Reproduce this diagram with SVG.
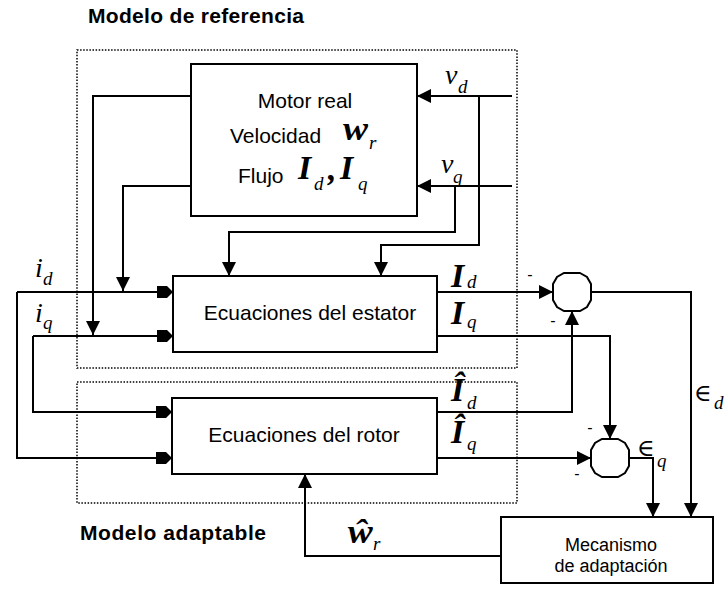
<svg xmlns="http://www.w3.org/2000/svg" width="728" height="594" viewBox="0 0 728 594">
<defs>
<style>
.frame{fill:none;stroke:#000;stroke-width:1.5;stroke-dasharray:1.5 1.6}
.box{fill:#fff;stroke:#000;stroke-width:2}
.sum{fill:#fff;stroke:#000;stroke-width:2}
.wire{fill:none;stroke:#000;stroke-width:2;marker-end:url(#ah)}
.win{fill:none;stroke:#000;stroke-width:2;marker-end:url(#ai)}
.sans{font-family:"Liberation Sans",Arial,sans-serif;font-size:21px;fill:#000}
.mec{font-family:"Liberation Sans",Arial,sans-serif;font-size:18px;fill:#000}
.title{font-family:"Liberation Sans",Arial,sans-serif;font-size:21px;font-weight:bold;fill:#000}
.mi{font-family:"Liberation Serif","Times New Roman",serif;font-style:italic;font-size:28px;fill:#000}
.sub{font-family:"Liberation Serif","Times New Roman",serif;font-style:italic;font-size:19px;fill:#000}
.bi{font-family:"Liberation Serif","Times New Roman",serif;font-style:italic;font-weight:bold;font-size:34px;fill:#000}
.el{font-family:"DejaVu Serif","Liberation Serif",serif;font-size:24px;fill:#000}
.minus{font-family:"Liberation Sans",Arial,sans-serif;font-size:16px;fill:#000;text-anchor:middle}
</style>
<marker id="ah" viewBox="0 0 14 14" refX="14" refY="7" markerWidth="14" markerHeight="14" markerUnits="userSpaceOnUse" orient="auto">
<path d="M0,0 L14,7 L0,14 z" fill="#000"/>
</marker>
<marker id="ai" viewBox="0 0 16 14" refX="16" refY="7" markerWidth="16" markerHeight="14" markerUnits="userSpaceOnUse" orient="auto">
<path d="M0,1 L10,1 L16,7 L10,13 L0,13 z" fill="#000"/>
</marker>
</defs>
<rect width="728" height="594" fill="#fff"/>

<g id="modelo-referencia">
<rect class="frame" x="77" y="50" width="440" height="318"/>
<text class="title" x="88" y="23" textLength="216" lengthAdjust="spacing">Modelo de referencia</text>
</g>
<g id="modelo-adaptable">
<rect class="frame" x="77" y="382" width="440" height="121"/>
<text class="title" x="80" y="540" textLength="186" lengthAdjust="spacing">Modelo adaptable</text>
</g>

<g id="connectors">
<path class="wire" d="M191,96 H93 V335"/>
<path class="wire" d="M191,186 H123 V291"/>
<path class="wire" d="M512,96 H417"/>
<path class="wire" d="M512,186 H417"/>
<path class="wire" d="M479,96 V245 H381 V276"/>
<path class="wire" d="M455,186 V232 H229 V276"/>
<path class="win" d="M17,292 H173"/>
<path class="win" d="M17,292 V458 H172"/>
<path class="win" d="M33,336 H173"/>
<path class="win" d="M33,336 V412 H172"/>
<path class="wire" d="M437,292 H553"/>
<path class="wire" d="M437,336 H610 V439"/>
<path class="wire" d="M437,412 H572 V311"/>
<path class="wire" d="M437,458 H591"/>
<path class="wire" d="M591,292 H691 V517"/>
<path class="wire" d="M629,458 H653 V517"/>
<path class="wire" d="M501,556 H305 V474"/>
</g>

<g id="motor-real">
<rect class="box" x="191" y="64" width="226" height="152"/>
<text class="sans" x="305" y="108" text-anchor="middle">Motor real</text>
<text class="sans" x="230" y="143">Velocidad</text>
<text class="bi" x="343" y="140" textLength="25" lengthAdjust="spacingAndGlyphs">w</text>
<text class="sub" x="369" y="149">r</text>
<text class="sans" x="238" y="183">Flujo</text>
<text class="bi" x="298" y="179">I</text>
<text class="sub" x="314" y="190">d</text>
<text class="bi" x="328" y="180" font-size="26">,</text>
<text class="bi" x="340" y="179">I</text>
<text class="sub" x="358" y="190">q</text>
</g>

<g id="ecuaciones-estator">
<rect class="box" x="173" y="276" width="264" height="76"/>
<text class="sans" x="310" y="320" text-anchor="middle" font-size="18">Ecuaciones del estator</text>
</g>

<g id="ecuaciones-rotor">
<rect class="box" x="172" y="398" width="265" height="76"/>
<text class="sans" x="304" y="442" text-anchor="middle">Ecuaciones del rotor</text>
</g>

<g id="suma-d">
<polygon class="sum" points="580,273 587,277 591,284 591,300 587,307 580,311 564,311 557,307 553,300 553,284 557,277 564,273"/>
<text class="minus" x="530" y="280">-</text>
<text class="minus" x="553" y="326">-</text>
</g>

<g id="suma-q">
<polygon class="sum" points="618,439 625,443 629,450 629,466 625,473 618,477 602,477 595,473 591,466 591,450 595,443 602,439"/>
<text class="minus" x="590" y="433">-</text>
<text class="minus" x="577" y="479">-</text>
</g>

<g id="mecanismo">
<rect class="box" x="501" y="517" width="212" height="66"/>
<text class="mec" x="611" y="551" text-anchor="middle">Mecanismo</text>
<text class="mec" x="611" y="572" text-anchor="middle">de adaptación</text>
</g>

<g id="labels">
<text class="mi" x="445" y="84">v</text>
<text class="sub" x="458" y="93">d</text>
<text class="mi" x="441" y="173">v</text>
<text class="sub" x="453" y="183">q</text>
<text class="mi" x="35" y="277">i</text>
<text class="sub" x="43" y="285">d</text>
<text class="mi" x="35" y="322">i</text>
<text class="sub" x="43" y="329">q</text>
<text class="bi" x="451" y="287">I</text>
<text class="sub" x="467" y="288">d</text>
<text class="bi" x="451" y="324">I</text>
<text class="sub" x="467" y="328">q</text>
<text class="bi" x="451" y="401">Î</text>
<text class="sub" x="467" y="409">d</text>
<text class="bi" x="451" y="443">Î</text>
<text class="sub" x="467" y="450">q</text>
<text class="bi" x="348" y="543" textLength="25" lengthAdjust="spacingAndGlyphs">ŵ</text>
<text class="sub" x="373" y="550">r</text>
<text class="el" x="694" y="401">∈</text>
<text class="sub" x="714" y="409">d</text>
<text class="el" x="637" y="456">∈</text>
<text class="sub" x="657" y="467">q</text>
</g>
</svg>
